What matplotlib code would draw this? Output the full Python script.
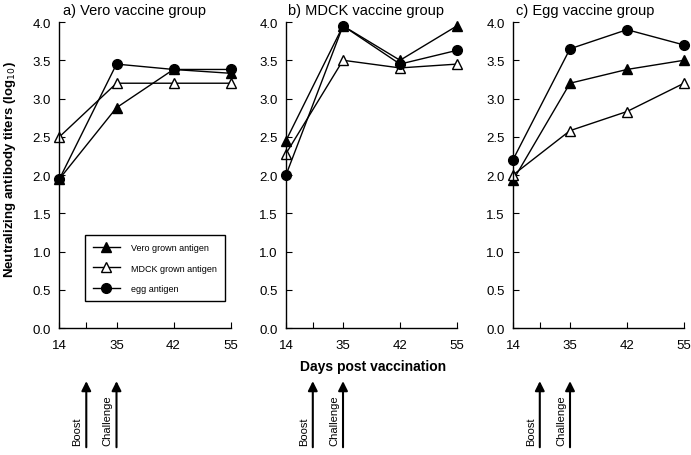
import matplotlib
matplotlib.use('Agg')
import matplotlib.pyplot as plt
from matplotlib.transforms import blended_transform_factory

plt.rcParams['font.family'] = ['Liberation Sans', 'DejaVu Sans']

days = ['14', '35', '42', '55']
panel_titles = ['a) Vero vaccine group', 'b) MDCK vaccine group', 'c) Egg vaccine group']
series_names = ['Vero grown antigen', 'MDCK grown antigen', 'egg antigen']

vero_group = [[1.95, 2.88, 3.38, 3.33],
              [2.50, 3.20, 3.20, 3.20],
              [1.95, 3.45, 3.38, 3.38]]
mdck_group = [[2.45, 3.95, 3.50, 3.95],
              [2.28, 3.50, 3.40, 3.45],
              [2.00, 3.95, 3.45, 3.63]]
egg_group = [[1.93, 3.20, 3.38, 3.50],
             [2.00, 2.58, 2.83, 3.20],
             [2.20, 3.65, 3.90, 3.70]]
groups = [vero_group, mdck_group, egg_group]

boost_pos = 0.47
challenge_pos = 1

styles = [dict(marker='^', markerfacecolor='black', markersize=6.5),
          dict(marker='^', markerfacecolor='white', markersize=7.5),
          dict(marker='o', markerfacecolor='black', markersize=7)]

fig = plt.figure(figsize=(6.91, 4.56), dpi=100)
lefts = [0.0861, 0.4139, 0.7424]
title_x = [0.44, 0.47, 0.42]
x = list(range(len(days)))

for i, grp in enumerate(groups):
    ax = fig.add_axes([lefts[i], 0.2785, 0.2475, 0.671])
    for vals, st, name in zip(grp, styles, series_names):
        ax.plot(x, vals, color='black', linewidth=1, markeredgecolor='black',
                clip_on=False, label=name, **st)
    ax.set_xlim(0, 3)
    ax.set_ylim(0, 4)
    ax.set_yticks([0, 0.5, 1, 1.5, 2, 2.5, 3, 3.5, 4])
    ax.set_yticklabels(['0.0', '0.5', '1.0', '1.5', '2.0', '2.5', '3.0', '3.5', '4.0'])
    ax.set_xticks([0, boost_pos, 1, 2, 3])
    ax.set_xticklabels(['14', '', '35', '42', '55'])
    ax.tick_params(direction='in', length=4, width=0.8, labelsize=9.5, pad=6)
    ax.tick_params(axis='x', pad=8)
    for s in ['top', 'right']:
        ax.spines[s].set_visible(False)
    for s in ['left', 'bottom']:
        ax.spines[s].set_linewidth(1)
    ax.set_title(panel_titles[i], fontsize=10.5, pad=6, x=title_x[i])

    trans = blended_transform_factory(ax.transData, fig.transFigure)
    for pos, lab in [(boost_pos, 'Boost'), (challenge_pos, 'Challenge')]:
        ax.annotate('', xy=(pos, 0.162), xytext=(pos, 0.017),
                    xycoords=trans, textcoords=trans, annotation_clip=False,
                    arrowprops=dict(arrowstyle='-|>', color='black', lw=1.5,
                                    mutation_scale=14, shrinkA=0, shrinkB=0))
        ax.text(pos - 0.16, 0.022, lab, transform=trans, rotation=90,
                ha='center', va='bottom', fontsize=8)

    if i == 0:
        leg = ax.legend(loc='lower left', bbox_to_anchor=(0.12, 0.072, 0.877, 0.242),
                        mode='expand', fontsize=6.5, handlelength=3, fancybox=False,
                        edgecolor='black', framealpha=1, borderpad=0.9,
                        labelspacing=1.3, handletextpad=1.2)
        leg.get_frame().set_linewidth(1)

fig.text(0.015, 0.627, 'Neutralizing antibody titers (log$_{10}$)', rotation=90,
         ha='center', va='center', fontsize=9.5, fontweight='bold')
fig.text(0.54, 0.195, 'Days post vaccination', ha='center', va='center',
         fontsize=10, fontweight='bold')

fig.savefig('out.png', dpi=100)
